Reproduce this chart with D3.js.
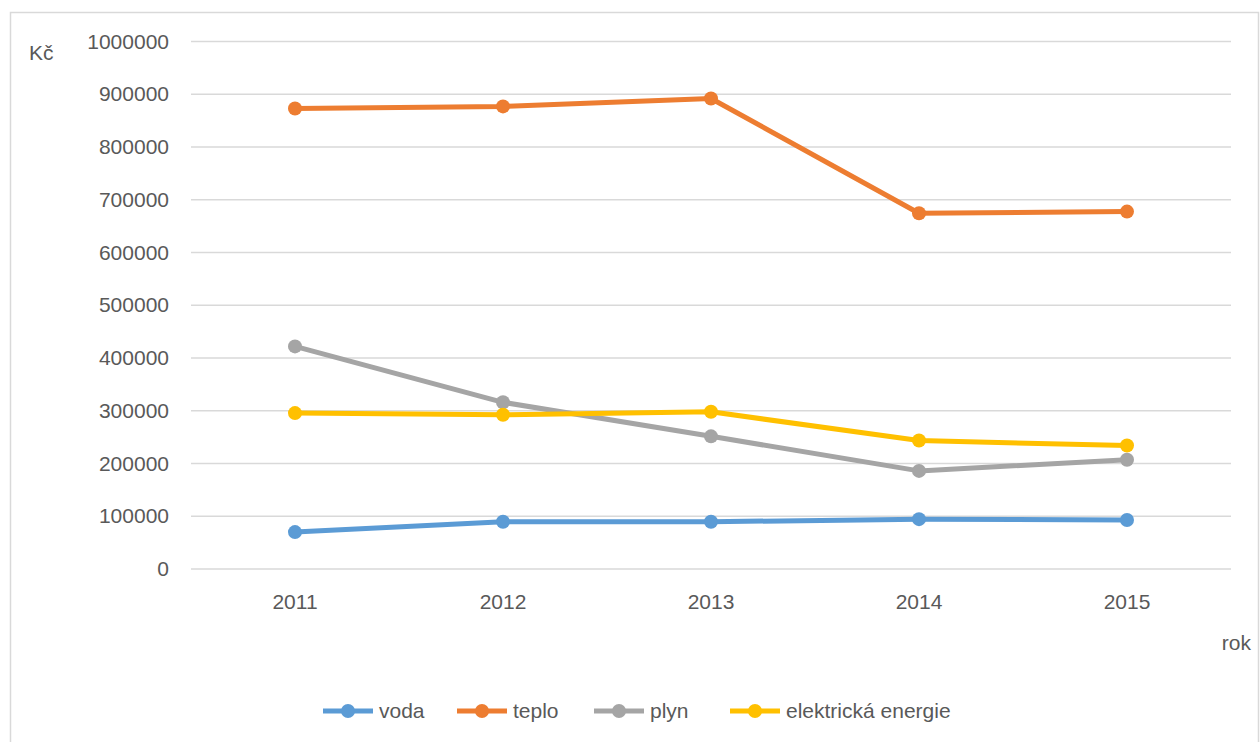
<!DOCTYPE html>
<html>
<head>
<meta charset="utf-8">
<script src="https://cdn.jsdelivr.net/npm/d3@7"></script>
<style>
  body { margin: 0; background: #fff; }
  svg text { font-family: "Liberation Sans", Arial, sans-serif; fill: #595959; }
</style>
</head>
<body>
<svg id="svg" width="1260" height="742"></svg>
<script>
var years = ["2011", "2012", "2013", "2014", "2015"];
var voda = [70000, 89500, 89500, 94500, 93000];
var teplo = [873000, 877000, 892000, 674500, 677500];
var plyn = [422000, 316000, 251500, 186000, 207000];
var elektrina = [295500, 292500, 298000, 243500, 234000];
var yTicks = [0, 100000, 200000, 300000, 400000, 500000, 600000, 700000, 800000, 900000, 1000000];

var series = [
    { name: "voda", values: voda, color: "#5B9BD5" },
    { name: "teplo", values: teplo, color: "#ED7D31" },
    { name: "plyn", values: plyn, color: "#A5A5A5" },
    { name: "elektrická energie", values: elektrina, color: "#FFC000" }
];

var svg = d3.select("svg");
var fontSize = 21;

// frame around the chart
svg.append("rect")
    .attr("x", 10.5).attr("y", 12.5)
    .attr("width", 1248).attr("height", 740)
    .attr("fill", "#fff")
    .attr("stroke", "#d9d9d9")
    .attr("stroke-width", 1.5);

var x = d3.scaleBand().domain(years).range([191, 1231]);
var y = d3.scaleLinear().domain([0, 1000000]).range([569, 41.5]);

// gridlines
svg.append("g")
    .selectAll("line")
    .data(yTicks)
    .enter().append("line")
    .attr("x1", 191).attr("x2", 1231)
    .attr("y1", function(d) { return y(d); })
    .attr("y2", function(d) { return y(d); })
    .attr("stroke", "#d9d9d9")
    .attr("stroke-width", 1.5);

// y axis labels
var yAxis = d3.axisLeft(y).tickValues(yTicks).tickSize(0).tickPadding(0)
    .tickFormat(function(d) { return String(d); });
var gy = svg.append("g").attr("transform", "translate(169,0)").call(yAxis);
gy.select(".domain").remove();
gy.selectAll("text").attr("font-size", fontSize).attr("fill", "#595959")
    .style("font-family", "'Liberation Sans', Arial, sans-serif");

// x axis labels
var xAxis = d3.axisBottom(x).tickSize(0).tickPadding(0);
var gx = svg.append("g").attr("transform", "translate(0,594)").call(xAxis);
gx.select(".domain").remove();
gx.selectAll("text").attr("font-size", fontSize).attr("fill", "#595959")
    .style("font-family", "'Liberation Sans', Arial, sans-serif");

// axis titles
svg.append("text").attr("x", 29).attr("y", 60).attr("font-size", fontSize).text("Kč");
svg.append("text").attr("x", 1251).attr("y", 650).attr("font-size", fontSize)
    .attr("text-anchor", "end").text("rok");

var line = d3.line()
    .x(function(d, i) { return x(years[i]) + x.bandwidth() / 2; })
    .y(function(d) { return y(d); });

var sg = svg.append("g").selectAll("g")
    .data(series)
    .enter().append("g");

sg.append("path")
    .attr("d", function(s) { return line(s.values); })
    .attr("fill", "none")
    .attr("stroke", function(s) { return s.color; })
    .attr("stroke-width", 5)
    .attr("stroke-linejoin", "round");

sg.selectAll("circle")
    .data(function(s) { return s.values.map(function(v, i) { return { v: v, i: i, color: s.color }; }); })
    .enter().append("circle")
    .attr("cx", function(d) { return x(years[d.i]) + x.bandwidth() / 2; })
    .attr("cy", function(d) { return y(d.v); })
    .attr("r", 7)
    .attr("fill", function(d) { return d.color; });

// legend
var legendX = [323, 457, 594, 730];
var lg = svg.append("g").selectAll("g")
    .data(series)
    .enter().append("g")
    .attr("transform", function(d, i) { return "translate(" + legendX[i] + ",711)"; });

lg.append("line")
    .attr("x1", 0).attr("x2", 50).attr("y1", 0).attr("y2", 0)
    .attr("stroke", function(d) { return d.color; })
    .attr("stroke-width", 5);
lg.append("circle")
    .attr("cx", 25).attr("cy", 0).attr("r", 7)
    .attr("fill", function(d) { return d.color; });
lg.append("text")
    .attr("x", 56).attr("y", 7)
    .attr("font-size", fontSize)
    .text(function(d) { return d.name; });
</script>
</body>
</html>
